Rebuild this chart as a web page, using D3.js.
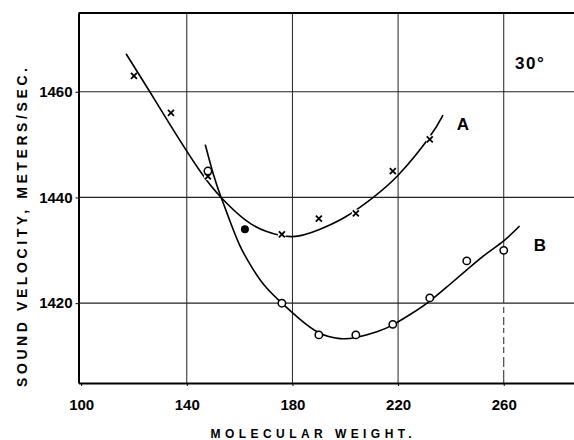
<!DOCTYPE html>
<html>
<head>
<meta charset="utf-8">
<script src="https://d3js.org/d3.v7.min.js"></script>
<style>
	body { margin: 0; background: #fff; }
	text { font-family: "Liberation Sans", Arial, sans-serif; font-weight: bold; fill: #000; }
</style>
</head>
<body>
<script>
// measured points, series A (crosses)
var weightA = [120, 134, 148, 176, 190, 204, 218, 232];
var velocityA = [1463, 1456, 1444, 1433, 1436, 1437, 1445, 1451];

// measured points, series B (open circles)
var weightB = [148, 176, 190, 204, 218, 232, 246, 260];
var velocityB = [1445, 1420, 1414, 1414, 1416, 1421, 1428, 1430];

// single solid point
var weightDot = [162];
var velocityDot = [1434];

// hand drawn curve A
var curveAWeight = [117, 126, 134, 145, 153, 162, 170, 180, 190, 200, 210, 220, 231.7, 237];
var curveAVel = [1467.2, 1460, 1453.5, 1445, 1440, 1435.8, 1433.6, 1432.6, 1433.9, 1436.3, 1439.8, 1444.2, 1451.3, 1455.6];

// hand drawn curve B
var curveBWeight = [147, 150, 153, 156, 160, 165, 170, 176, 182, 190, 198, 204, 212, 218, 225, 232, 239, 246, 253, 260, 266];
var curveBVel = [1450, 1444.5, 1440, 1436, 1431, 1426.5, 1423, 1420, 1417.3, 1414.4, 1413.3, 1413.5, 1414.6, 1415.9, 1418, 1420.4, 1423.3, 1426.3, 1429.2, 1431.8, 1434.6];

// ticks
var xTicks = [100, 140, 180, 220, 260];
var xGrid = [140, 180, 220, 260];
var yTicks = [1420, 1440, 1460];

window.onload = function(){
	var w = 574, h = 440;

	var svg = d3.select("body")
		.append("svg")
		.attr("width", w)
		.attr("height", h)
		.attr("class", "container");

	// scales
	var x = d3.scaleLinear().domain([99, 286.6]).range([78.5, 574]);
	var y = d3.scaleLinear().domain([1404.9, 1474.9]).range([383, 13]);

	// grid lines
	svg.selectAll(".vgrid")
		.data(xGrid)
		.enter()
		.append("line")
		.attr("class", "vgrid")
		.attr("x1", function(d){ return x(d); })
		.attr("x2", function(d){ return x(d); })
		.attr("y1", y.range()[1])
		.attr("y2", y.range()[0])
		.style("stroke", "#222")
		.style("stroke-width", 1)
		// the last one is broken up below 1420, as in the print
		.style("stroke-dasharray", function(d){ return d === 260 ? "290,4,6,4,8,3,5,4,7,3,6,4,10,3" : null; });

	svg.selectAll(".hgrid")
		.data(yTicks)
		.enter()
		.append("line")
		.attr("class", "hgrid")
		.attr("x1", x.range()[0])
		.attr("x2", x.range()[1])
		.attr("y1", function(d){ return y(d); })
		.attr("y2", function(d){ return y(d); })
		.style("stroke", "#222")
		.style("stroke-width", 1.2);

	// axes
	var xAxis = svg.append("g")
		.attr("class", "xaxis")
		.attr("transform", "translate(0," + y.range()[0] + ")")
		.call(d3.axisBottom(x).tickValues(xTicks).tickSize(3).tickPadding(13).tickSizeOuter(0).tickFormat(d3.format("d")));

	var yAxis = svg.append("g")
		.attr("class", "yaxis")
		.attr("transform", "translate(" + x.range()[0] + ",0)")
		.call(d3.axisLeft(y).tickValues(yTicks).tickSize(3).tickPadding(3).tickSizeOuter(0).tickFormat(d3.format("d")));

	svg.selectAll(".xaxis .tick text, .yaxis .tick text")
		.style("font-size", "15px")
		.style("font-family", "'Liberation Sans', Arial, sans-serif")
		.style("font-weight", "bold");

	svg.selectAll(".xaxis path, .yaxis path")
		.style("stroke", "#000")
		.style("stroke-width", 2);

	// top frame line
	svg.append("line")
		.attr("x1", x.range()[0])
		.attr("x2", x.range()[1])
		.attr("y1", y.range()[1])
		.attr("y2", y.range()[1])
		.style("stroke", "#000")
		.style("stroke-width", 2);

	// curves
	var lineGen = d3.line()
		.x(function(d){ return x(d[0]); })
		.y(function(d){ return y(d[1]); })
		.curve(d3.curveNatural);

	svg.append("path")
		.datum(d3.zip(curveAWeight, curveAVel))
		.attr("class", "curveA")
		.attr("d", lineGen)
		.style("fill", "none")
		.style("stroke", "#000")
		.style("stroke-width", 1.6);

	svg.append("path")
		.datum(d3.zip(curveBWeight, curveBVel))
		.attr("class", "curveB")
		.attr("d", lineGen)
		.style("fill", "none")
		.style("stroke", "#000")
		.style("stroke-width", 1.6);

	// crosses, with a small white gap round each
	var crossData = d3.zip(weightA, velocityA);
	svg.selectAll(".crossGap")
		.data(crossData)
		.enter()
		.append("circle")
		.attr("class", "crossGap")
		.attr("cx", function(d){ return x(d[0]); })
		.attr("cy", function(d){ return y(d[1]); })
		.attr("r", 4)
		.style("fill", "#fff");

	svg.selectAll(".cross")
		.data(crossData)
		.enter()
		.append("path")
		.attr("class", "cross")
		.attr("transform", function(d){ return "translate(" + x(d[0]) + "," + y(d[1]) + ")"; })
		.attr("d", "M-3,-3L3,3M-3,3L3,-3")
		.style("stroke", "#000")
		.style("stroke-width", 1.8);

	// open circles
	svg.selectAll(".ring")
		.data(d3.zip(weightB, velocityB))
		.enter()
		.append("circle")
		.attr("class", "ring")
		.attr("cx", function(d){ return x(d[0]); })
		.attr("cy", function(d){ return y(d[1]); })
		.attr("r", 3.7)
		.style("fill", "#fff")
		.style("stroke", "#000")
		.style("stroke-width", 1.5);

	// solid point
	svg.selectAll(".dot")
		.data(d3.zip(weightDot, velocityDot))
		.enter()
		.append("circle")
		.attr("class", "dot")
		.attr("cx", function(d){ return x(d[0]); })
		.attr("cy", function(d){ return y(d[1]); })
		.attr("r", 4)
		.style("fill", "#000");

	// curve labels and temperature
	svg.append("text")
		.attr("x", 463)
		.attr("y", 129.5)
		.attr("text-anchor", "middle")
		.style("font-size", "17px")
		.text("A");

	svg.append("text")
		.attr("x", 540)
		.attr("y", 250.5)
		.attr("text-anchor", "middle")
		.style("font-size", "17px")
		.text("B");

	svg.append("text")
		.attr("x", 515)
		.attr("y", 68.5)
		.style("font-size", "17px")
		.style("letter-spacing", "1.5px")
		.text("30°");

	// axis titles
	svg.append("text")
		.attr("x", 311)
		.attr("y", 438)
		.attr("text-anchor", "middle")
		.attr("textLength", 201)
		.attr("lengthAdjust", "spacing")
		.style("font-size", "12px")
		.text("MOLECULAR  WEIGHT.");

	svg.append("text")
		.attr("transform", "translate(27,227.5) rotate(-90)")
		.attr("text-anchor", "middle")
		.attr("textLength", 319)
		.attr("lengthAdjust", "spacing")
		.style("font-size", "14px")
		.text("SOUND  VELOCITY,  METERS/SEC.");
};
</script>
</body>
</html>
